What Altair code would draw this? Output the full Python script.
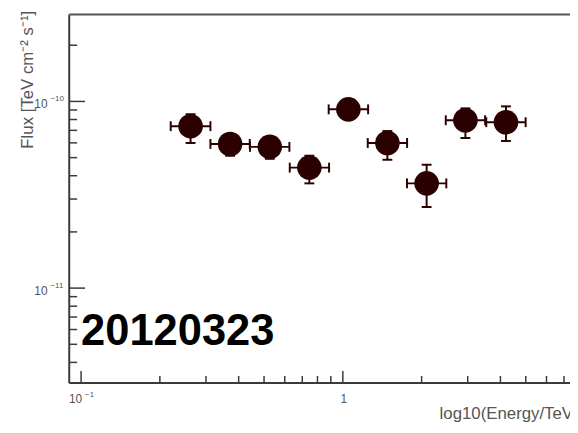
import altair as alt
import pandas as pd

# ---- data ----
energy = [0.262, 0.371, 0.526, 0.745, 1.05, 1.48, 2.09, 2.94, 4.20]
energy_lo = [0.220, 0.312, 0.442, 0.627, 0.883, 1.245, 1.758, 2.473, 3.532]
energy_hi = [0.312, 0.441, 0.625, 0.886, 1.249, 1.760, 2.485, 3.496, 4.994]
flux = [7.37e-11, 5.92e-11, 5.71e-11, 4.42e-11, 9.07e-11, 5.99e-11, 3.64e-11, 7.93e-11, 7.74e-11]
flux_lo = [5.99e-11, 5.12e-11, 4.93e-11, 3.64e-11, 8.03e-11, 4.87e-11, 2.72e-11, 6.37e-11, 6.14e-11]
flux_hi = [8.54e-11, 6.69e-11, 6.45e-11, 5.12e-11, 1.025e-10, 6.94e-11, 4.58e-11, 9.18e-11, 9.41e-11]

x_major = [0.1, 1.0]
x_minor = [0.2, 0.3, 0.4, 0.5, 0.6, 0.7, 0.8, 0.9, 2, 3, 4, 5, 6, 7]
y_major = [1e-11, 1e-10]
y_minor = [4e-12, 5e-12, 6e-12, 7e-12, 8e-12, 9e-12,
           2e-11, 3e-11, 4e-11, 5e-11, 6e-11, 7e-11, 8e-11, 9e-11, 2e-10]

x_pow_vals = [0.1]
x_pow_exp = ["\u22121"]
x_plain_vals = [1.0]
x_plain_text = ["1"]
y_pow_vals = [1e-11, 1e-10]
y_pow_exp = ["\u221211", "\u221210"]

run_label = "20120323"
x_title = "log10(Energy/TeV)"
y_title = "Flux [TeV cm\u207b\u00b2 s\u207b\u00b9]"

# ---- layout ----
W, H = 507, 373
X_DOMAIN = [10 ** (-1 - 12 / 265), 10 ** (-1 + (W - 12) / 265)]
Y_DOMAIN = [10 ** (-11 - (H - 277) / 189), 10 ** (-10 + 88 / 189)]
MC = "#2a0000"
AX = "#3a3a3a"
TX = "#555555"
FONT = "Liberation Sans"

xs = alt.Scale(type="log", domain=X_DOMAIN, nice=False)
ys = alt.Scale(type="log", domain=Y_DOMAIN, nice=False)


def X(f):
    return alt.X(f, type="quantitative", scale=xs, axis=None)


def Y(f):
    return alt.Y(f, type="quantitative", scale=ys, axis=None)


pts = pd.DataFrame(dict(energy=energy, e_lo=energy_lo, e_hi=energy_hi,
                        flux=flux, f_lo=flux_lo, f_hi=flux_hi))
base = alt.Chart(pts)

xerr = base.mark_rule(color=MC, strokeWidth=2).encode(x=X("e_lo"), x2="e_hi", y=Y("flux"))
yerr = base.mark_rule(color=MC, strokeWidth=2).encode(x=X("energy"), y=Y("f_lo"), y2="f_hi")
xcaps = base.transform_fold(["e_lo", "e_hi"], as_=["k", "ev"]).mark_tick(
    orient="vertical", size=10, thickness=2, color=MC, opacity=1
).encode(x=X("ev"), y=Y("flux"))
ycaps = base.transform_fold(["f_lo", "f_hi"], as_=["k", "fv"]).mark_tick(
    orient="horizontal", size=10, thickness=2, color=MC, opacity=1
).encode(x=X("energy"), y=Y("fv"))
points = base.mark_circle(size=620, color=MC, opacity=1).encode(x=X("energy"), y=Y("flux"))

one = pd.DataFrame({"a": [0]})
left_line = alt.Chart(one).mark_rule(color=AX, strokeWidth=2).encode(
    x=alt.value(0), y=alt.value(0), y2=alt.value(H))
bottom_line = alt.Chart(one).mark_rule(color=AX, strokeWidth=2).encode(
    x=alt.value(0), x2=alt.value(W + 10), y=alt.value(H))
top_line = alt.Chart(one).mark_rule(color="#555555", strokeWidth=2).encode(
    x=alt.value(0), x2=alt.value(W + 10), y=alt.value(0))

xmaj = alt.Chart(pd.DataFrame({"t": x_major})).mark_rule(color=AX, strokeWidth=1.5).encode(
    x=X("t"), y=alt.value(H), y2=alt.value(H - 12))
xmin = alt.Chart(pd.DataFrame({"t": x_minor})).mark_rule(color=AX, strokeWidth=1.5).encode(
    x=X("t"), y=alt.value(H), y2=alt.value(H - 7))
ymaj = alt.Chart(pd.DataFrame({"t": y_major})).mark_rule(color=AX, strokeWidth=1.5).encode(
    y=Y("t"), x=alt.value(0), x2=alt.value(16))
ymin = alt.Chart(pd.DataFrame({"t": y_minor})).mark_rule(color=AX, strokeWidth=1.5).encode(
    y=Y("t"), x=alt.value(0), x2=alt.value(8))

xpow = pd.DataFrame({"t": x_pow_vals, "e": x_pow_exp, "b": ["10"] * len(x_pow_vals)})
xpow_base = alt.Chart(xpow).mark_text(font=FONT, fontSize=12, color=TX, align="right",
                                      baseline="alphabetic", dx=1).encode(
    x=X("t"), y=alt.value(H + 20), text="b:N")
xpow_exp = alt.Chart(xpow).mark_text(font=FONT, fontSize=8, color=TX, align="left",
                                     baseline="alphabetic", dx=4).encode(
    x=X("t"), y=alt.value(H + 14), text="e:N")
xplain = alt.Chart(pd.DataFrame({"t": x_plain_vals, "s": x_plain_text})).mark_text(
    font=FONT, fontSize=12, color=TX, align="center", baseline="alphabetic", dx=1).encode(
    x=X("t"), y=alt.value(H + 20), text="s:N")

ypow = pd.DataFrame({"t": y_pow_vals, "e": y_pow_exp, "b": ["10"] * len(y_pow_vals)})
ypow_base = alt.Chart(ypow).mark_text(font=FONT, fontSize=12, color=TX, align="right",
                                      baseline="alphabetic", dy=7).encode(
    y=Y("t"), x=alt.value(-22), text="b:N")
ypow_exp = alt.Chart(ypow).mark_text(font=FONT, fontSize=8, color=TX, align="left",
                                     baseline="alphabetic", dy=0).encode(
    y=Y("t"), x=alt.value(-19), text="e:N")

big = alt.Chart(one).mark_text(font=FONT, fontSize=44, fontWeight="bold", color="#000000",
                               align="left", baseline="alphabetic").encode(
    x=alt.value(12), y=alt.value(335), text=alt.value(run_label))
xt = alt.Chart(one).mark_text(font=FONT, fontSize=17, color=TX, align="left",
                              baseline="alphabetic").encode(
    x=alt.value(375), y=alt.value(410), text=alt.value(x_title))
yt = alt.Chart(one).mark_text(font=FONT, fontSize=17, color=TX, align="center",
                              baseline="middle", angle=270).encode(
    x=alt.value(-42), y=alt.value(66), text=alt.value(y_title))

chart = alt.layer(
    xerr, yerr, xcaps, ycaps, points,
    xmaj, xmin, ymaj, ymin, left_line, bottom_line, top_line,
    xpow_base, xpow_exp, xplain, ypow_base, ypow_exp, big, xt, yt
).properties(
    width=W, height=H,
    padding={"left": 62, "top": 4, "right": 0, "bottom": 40},
    autosize=alt.AutoSizeParams(type="none"),
    background="white",
).configure_view(stroke=None)

chart.save("out.html", embed_options={"renderer": "svg", "actions": False})
